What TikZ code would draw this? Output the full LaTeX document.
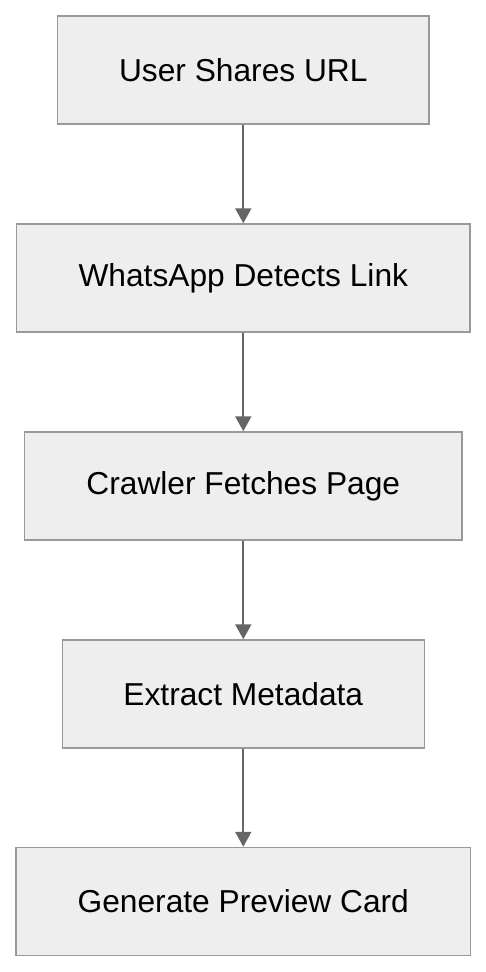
\documentclass[tikz,border=0pt]{standalone}
\usepackage{fontspec}
\setmainfont{Liberation Sans}
\usetikzlibrary{arrows.meta}
\definecolor{boxfill}{HTML}{EEEEEE}
\definecolor{boxline}{HTML}{999999}
\definecolor{arrowgray}{HTML}{666666}
\tikzset{
	stepbox/.style={draw=boxline, fill=boxfill, line width=1.5pt, inner sep=0pt,
		minimum height=108pt, font=\fontsize{31.7}{38}\selectfont},
	flow/.style={draw=arrowgray, line width=2pt, -{Triangle[width=16pt,length=15pt]}}
}

\begin{document}
\begin{tikzpicture}[x=1pt, y=-1pt]
		%%%%% START %%%%%
		\useasboundingbox (0, 0) rectangle (486, 972);
		
		\node[stepbox, minimum width=371.5pt] (share) at (243.3, 70) {User Shares URL};
		\node[stepbox, minimum width=453.3pt] (detect) at (243.3, 278) {WhatsApp Detects Link};
		\node[stepbox, minimum width=437.3pt] (crawl) at (243.3, 486) {Crawler Fetches Page};
		\node[stepbox, minimum width=362pt] (extract) at (243.3, 694) {Extract Metadata};
		\node[stepbox, minimum width=454.4pt] (card) at (243.3, 901.5) {Generate Preview Card};
		
		\draw[flow] (share) -- (detect);
		\draw[flow] (detect) -- (crawl);
		\draw[flow] (crawl) -- (extract);
		\draw[flow] (extract) -- (card);
		
		%%%%% END %%%%%
	\end{tikzpicture}
\end{document}
